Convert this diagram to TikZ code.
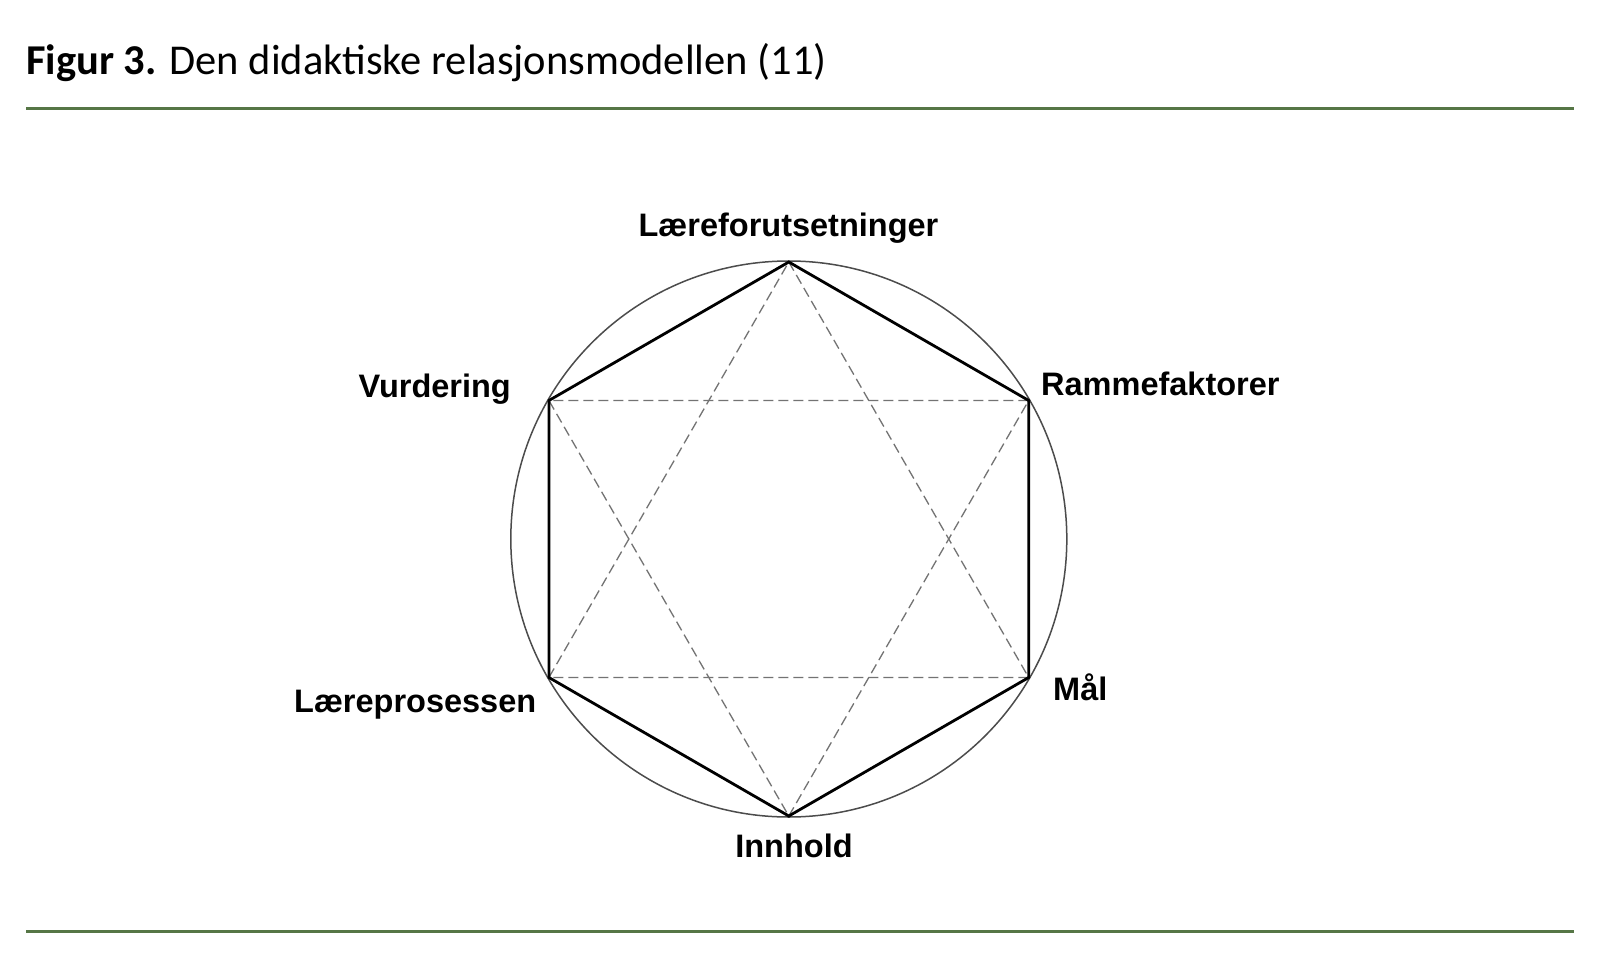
\documentclass[tikz,border=0pt]{standalone}
\usepackage{fontspec}
\usetikzlibrary{calc}
\newfontfamily\titlefont{Carlito}
\newfontfamily\labelfont{Liberation Sans}
\definecolor{rulegreen}{RGB}{86,118,70}
\begin{document}
\begin{tikzpicture}[x=1pt,y=-1pt,
  lbl/.style={inner sep=0pt, font=\labelfont\bfseries\fontsize{32.5}{38}\selectfont},
  hexline/.style={line width=2.8pt, black, line join=miter},
  dashline/.style={line width=1.3pt, color=black!55, dash pattern=on 10pt off 5pt},
  rimline/.style={line width=1.5pt, color=black!70},
  rule/.style={line width=3pt, rulegreen}]
\useasboundingbox[fill=white] (0,0) rectangle (1600,976);
% title
\node[anchor=base west, inner sep=0pt, font=\titlefont\fontsize{42.5}{50}\selectfont] (title) at (26,75) {\textbf{Figur 3.} Den didaktiske relasjonsmodellen (11)};
% rules
\coordinate (r1a) at (26,109); \coordinate (r1b) at (1574,109);
\coordinate (r2a) at (26,931); \coordinate (r2b) at (1574,931);
\draw[rule] (r1a) -- (r1b);
\draw[rule] (r2a) -- (r2b);
% geometry
\coordinate (C) at (788.8,539);
\coordinate (T)  at ($(C)+(0,-277)$);
\coordinate (UR) at ($(C)+(239.9,-138.5)$);
\coordinate (LR) at ($(C)+(239.9,138.5)$);
\coordinate (B)  at ($(C)+(0,277)$);
\coordinate (LL) at ($(C)+(-239.9,138.5)$);
\coordinate (UL) at ($(C)+(-239.9,-138.5)$);
\draw[rimline] (C) circle[radius=278];
\draw[dashline] (T) -- (LR) -- (LL) -- cycle;
\draw[dashline] (B) -- (UR) -- (UL) -- cycle;
\draw[hexline] (T) -- (UR) -- (LR) -- (B) -- (LL) -- (UL) -- cycle;
% labels
\node[lbl, anchor=base] (laf) at (788.5,237) {Læreforutsetninger};
\node[lbl, anchor=base east] (vur) at (511,397) {Vurdering};
\node[lbl, anchor=base west] (ram) at (1041,395) {Rammefaktorer};
\node[lbl, anchor=base west] (lp) at (294,712) {Læreprosessen};
\node[lbl, anchor=base west] (mal) at (1053,700) {Mål};
\node[lbl, anchor=base] (inn) at (794,857) {Innhold};
\end{tikzpicture}
\end{document}
